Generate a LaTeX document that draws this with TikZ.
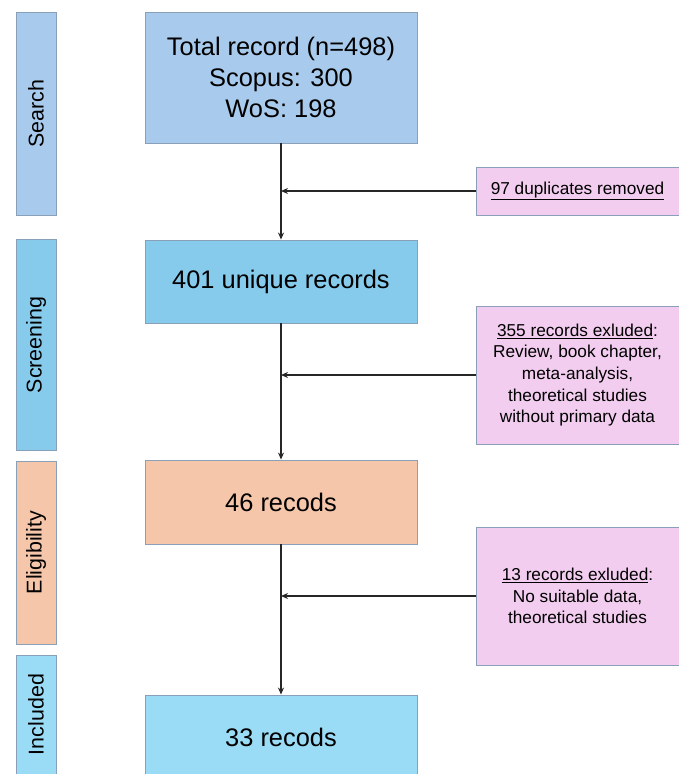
\documentclass[tikz,border=0pt]{standalone}
\usepackage{fontspec}
\setmainfont{Liberation Sans}
\usetikzlibrary{arrows.meta}
\definecolor{cSearch}{HTML}{A8CAEC}
\definecolor{cScreen}{HTML}{86CBEC}
\definecolor{cElig}{HTML}{F5C6AA}
\definecolor{cIncl}{HTML}{9ADCF6}
\definecolor{cPink}{HTML}{F2CDEF}
\definecolor{cBorder}{HTML}{8A9FB8}
\tikzset{
  box/.style={draw=cBorder, line width=0.9bp, inner sep=0pt, align=center},
  side/.style={box, minimum width=40bp},
  sidetext/.style={rotate=90, font=\fontsize{21.5}{24}\selectfont},
  mainbox/.style={box, minimum width=272bp, font=\fontsize{25.5}{31.5}\selectfont},
  excl/.style={box, fill=cPink, minimum width=203bp, font=\fontsize{17.3}{21.7}\selectfont},
  flow/.style={line width=1.4bp, draw=black!85, -{Stealth[length=7bp,width=6bp]}},
}
\begin{document}
\begin{tikzpicture}[x=1bp,y=-1bp]
\useasboundingbox (0,0) rectangle (679,774);
\clip (0,0) rectangle (679,774);
% side labels
\node[side, fill=cSearch, minimum height=203bp] (s1) at (36,113.5) {};
\node[sidetext] (t1) at (s1.center) {Search};
\node[side, fill=cScreen, minimum height=211bp] (s2) at (36,345) {};
\node[sidetext] (t2) at (s2.center) {Screening};
\node[side, fill=cElig, minimum height=183bp] (s3) at (36,552.5) {};
\node[sidetext] (t3) at (s3.center) {Eligibility};
\node[side, fill=cIncl, minimum height=140bp] (s4) at (36,725) {};
\node[sidetext] (t4) at (36,714.5) {Included};
% main boxes
\node[mainbox, fill=cSearch, minimum height=131bp] (a) at (281,77.5) {Total record (n=498)\\Scopus: 300\\WoS: 198};
\node[mainbox, fill=cScreen, minimum height=83bp] (b) at (281,281.5) {401 unique records};
\node[mainbox, fill=cElig, minimum height=84bp] (c) at (281,502) {46 recods};
\node[mainbox, fill=cIncl, minimum height=100bp] (d) at (281,745) {};
\node[font=\fontsize{25.5}{31.5}\selectfont] (dt) at (281,737) {33 recods};
% exclusion boxes
\node[excl, minimum height=48bp] (e1) at (577.5,191) {\underline{97 duplicates removed}};
\node[excl, minimum height=138bp] (e2) at (577.5,375) {\underline{355 records exluded}:\\Review, book chapter,\\meta-analysis,\\theoretical studies\\without primary data};
\node[excl, minimum height=138bp] (e3) at (577.5,596) {\underline{13 records exluded}:\\No suitable data,\\theoretical studies};
% connectors
\draw[flow] (a.south) -- (b.north);
\draw[flow] (b.south) -- (c.north);
\draw[flow] (c.south) -- (d.north);
\draw[flow] (e1.west) -- (a.south |- e1.west);
\draw[flow] (e2.west) -- (a.south |- e2.west);
\draw[flow] (e3.west) -- (a.south |- e3.west);
\end{tikzpicture}
\end{document}
